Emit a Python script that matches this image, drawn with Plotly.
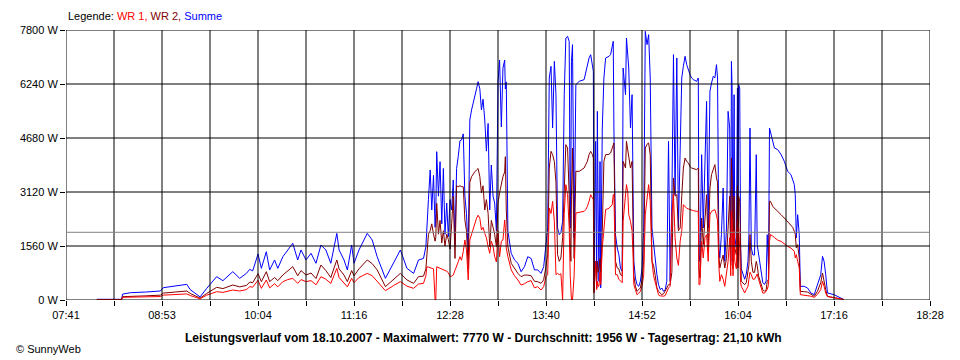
import plotly.graph_objects as go

# time in minutes after midnight
times = [
    484.1, 502.6, 503.4, 509.3, 520.5, 531.7, 533.9, 542.8, 551.5, 554.0,
    561.4, 566.4, 573.8, 578.5, 585.9, 591.1, 596.1, 598.6, 600.8, 604.8,
    607.3, 611.0, 613.5, 617.2, 619.6, 623.4, 627.1, 630.8, 634.5, 637.0,
    640.7, 644.5, 648.2, 651.9, 655.6, 659.3, 663.8, 665.5, 669.2, 671.7,
    674.9, 676.7, 680.4, 686.6, 690.3, 694.0, 700.2, 706.4, 711.4, 716.3,
    721.3,
    725.0, 728.7, 730.5, 731.2, 732.4, 733.7, 734.9, 736.2, 737.4, 737.9,
    738.6, 739.9, 741.1, 742.4, 743.6, 744.8, 746.1, 747.3, 748.6, 749.8,
    751.0, 752.3, 753.5, 754.7, 756.0, 757.2, 758.5, 759.7, 760.9, 762.2,
    763.4, 764.7, 765.9, 767.1, 768.4, 769.6, 770.9, 772.1, 773.3, 774.6,
    775.8, 777.1, 778.3, 779.5, 780.8, 782.0, 783.3, 784.5, 785.7, 787.0,
    788.2, 789.5, 790.0, 790.7, 791.9, 794.4, 796.9, 799.4, 801.8, 804.3,
    806.8, 809.3, 811.8, 814.2, 816.7, 818.7, 820.4,
    821.7, 822.9, 824.2, 825.4, 826.7, 827.9, 829.1, 830.4, 831.6, 832.9,
    834.1, 835.3, 836.6, 837.8, 838.6, 839.1, 839.5, 840.3, 841.5, 842.8,
    845.3, 849.0, 850.2, 851.4, 852.7, 853.9, 855.2, 855.9, 856.4, 857.6,
    858.4, 858.9, 859.4, 860.1, 860.9, 861.4, 862.6, 863.8, 865.1, 867.6,
    868.8, 870.0, 870.8, 871.3, 872.5, 873.8, 875.0, 876.2, 877.5, 878.2,
    879.2, 880.0, 880.7, 881.7, 882.4, 883.7, 884.9, 885.7, 886.2, 887.4,
    888.6, 889.9, 891.1, 892.4, 893.6, 894.8, 896.1, 897.3, 898.5, 899.8,
    901.0, 902.3, 903.5, 904.7, 906.0, 907.2, 908.5, 909.7, 910.9, 912.2,
    913.4, 914.7, 915.9, 917.1, 918.4, 919.6, 920.9, 922.1,
    923.3, 924.6, 925.8, 927.1, 928.3, 929.5, 930.8, 933.3, 934.5, 935.0,
    935.7, 937.0, 938.2, 939.5, 940.7, 941.9, 943.2, 944.4, 945.7, 946.9,
    948.1, 948.9, 949.9, 950.6, 951.8, 953.1, 954.3, 955.6, 956.8, 958.0,
    958.8, 959.3, 959.8, 960.5, 961.3, 961.8, 963.0, 963.8, 964.2, 964.7,
    965.5, 966.2, 966.7, 968.0, 969.2, 970.4, 971.7, 972.4, 973.2, 974.2,
    975.4, 976.6, 977.9, 978.6, 979.6, 981.6, 982.8, 984.1, 985.3, 986.1,
    987.1, 987.8, 988.5, 990.3, 991.5, 994.0, 996.5, 998.9, 1001.4, 1003.9,
    1005.2, 1006.4, 1007.1, 1007.9, 1008.9, 1010.1, 1010.9, 1013.8, 1016.3, 1018.8,
    1021.3, 1023.7, 1026.2, 1027.5, 1028.7, 1029.9, 1031.2, 1036.1, 1038.6, 1041.1,
    1043.6,
]

summe = [
    20, 20, 170, 211, 230, 260, 356, 400, 452, 300,
    90, 337, 674, 558, 818, 626, 770, 886, 840, 1329,
    915, 1395, 867, 1156, 915, 1251, 1445, 1638, 1156, 1445,
    1156, 1348, 1060, 1589, 1445, 1060, 1926, 1445, 1156, 867,
    1589, 1060, 1445, 1926, 1733, 1251, 626, 1060, 1445, 915,
    770,
    1156, 1200, 1540, 2225, 2900, 3756, 2600, 3600, 2100, 2500,
    4285, 3000, 3996, 2200, 3800, 1900, 2800, 1830, 2900, 2600,
    3467, 1600, 3800, 4140, 4600, 4622, 4800, 3000, 2500, 1350,
    5200, 5489, 5700, 5971, 6100, 6307, 6100, 5489, 5800, 5200,
    4300, 5100, 2600, 3900, 3000, 2800, 2000, 6300, 6933, 5000,
    6700, 6933, 6100, 6300, 2000, 1348, 1156, 1060, 818, 960,
    1251, 1200, 870, 870, 770, 960, 1540,
    2080, 6414, 6750, 4969, 6895, 5932, 2080, 1887, 1950, 2273,
    5932, 7569, 7617, 7473, 2080, 4000, 6895, 7377, 1800, 6221,
    6317, 6366, 6606, 6799, 6991, 7088, 6799, 6606, 443, 4584,
    347, 5450, 3000, 539, 4000, 347, 4969, 6414, 6991, 7040,
    7088, 7280, 7473, 4969, 1887, 1502, 1310, 924, 828, 6702,
    6317, 5932, 7569, 7088, 6702, 4969, 5932, 3000, 1117, 636,
    443, 395, 539, 924, 2080, 7762, 7377, 7666, 6414, 2080,
    1598, 1117, 732, 443, 298, 347, 250, 300, 539, 4584,
    539, 2900, 7088, 3043, 6991, 2080, 4584, 6414,
    6750, 7040, 6799, 6606, 6510, 6414, 6366, 6317, 6414, 1310,
    1117, 4199, 2080, 4000, 5740, 2080, 6029, 6269, 6462, 6414,
    6799, 6414, 1502, 1213, 1887, 3236, 1117, 2080, 5450, 4969,
    1117, 6895, 6125, 1117, 5932, 1800, 1502, 6125, 1500, 6221,
    6125, 1502, 900, 750, 600, 750, 1117, 1887, 4969, 1502,
    1300, 1300, 4199, 1600, 1300, 700, 500, 450, 550, 1887,
    900, 4969, 4873, 4584, 4391, 4343, 4199, 4006, 3717, 3621,
    3477, 3332, 3043, 1791, 2465, 1887, 395, 395, 347, 203,
    154, 443, 732, 1261, 1117, 732, 203, 154, 106, 58,
    10,
]

wr2 = [
    10, 10, 96, 110, 120, 140, 200, 230, 260, 190,
    55, 190, 366, 330, 433, 380, 420, 520, 500, 760,
    530, 818, 530, 650, 560, 722, 850, 963, 700, 850,
    722, 780, 620, 1011, 850, 650, 1156, 900, 720, 530,
    850, 700, 900, 1156, 1050, 870, 385, 600, 770, 580,
    481,
    674, 690, 900, 1300, 1900, 2000, 2200, 1900, 1700, 1800,
    2793, 1900, 2300, 1650, 2000, 1560, 1900, 1750, 1470, 2200,
    3000, 1200, 3300, 3274, 3300, 3280, 3270, 2311, 2000, 900,
    3400, 3563, 3650, 3700, 3756, 3800, 3563, 3100, 3300, 2600,
    2900, 2500, 1540, 2300, 2100, 1900, 1540, 2800, 3100, 3400,
    3563, 3700, 4140, 2600, 1540, 1060, 915, 770, 674, 720,
    720, 700, 540, 530, 481, 580, 960,
    1310, 3813, 4295, 4199, 4000, 3400, 1310, 1117, 1213, 1800,
    3043, 4488, 4391, 3043, 1500, 1117, 3000, 4391, 1200, 3717,
    3717, 3813, 3910, 4006, 4199, 4295, 4199, 4100, 250, 1117,
    600, 1117, 800, 900, 1200, 539, 2000, 4006, 4199, 4210,
    4247, 4391, 4488, 4536, 1117, 924, 900, 732, 700, 4006,
    3900, 3813, 4584, 4300, 4199, 3813, 4006, 2000, 700, 400,
    250, 300, 347, 600, 1117, 4391, 4500, 4536, 4199, 1117,
    1000, 700, 347, 250, 200, 154, 180, 250, 347, 443,
    443, 800, 3525, 3000, 3043, 2000, 2080, 3000,
    3813, 4103, 4000, 3958, 3850, 3813, 3800, 3765, 3813, 924,
    636, 2369, 1598, 2465, 3043, 1406, 3236, 3621, 3813, 3910,
    3525, 3400, 1300, 924, 1117, 1300, 924, 1200, 2080, 3000,
    1000, 4103, 3500, 900, 3000, 1502, 1300, 3300, 1117, 3000,
    2851, 1000, 539, 491, 443, 500, 780, 1000, 1887, 1117,
    800, 800, 1117, 1000, 700, 400, 300, 250, 300, 539,
    600, 2851, 2851, 2700, 2658, 2562, 2465, 2369, 2273, 2177,
    2100, 1984, 1900, 1502, 1598, 1213, 250, 240, 230, 170,
    106, 250, 500, 780, 491, 300, 106, 60, 50, 39,
    10,
]

wr1 = [
    10, 10, 78, 85, 90, 100, 140, 160, 175, 130,
    35, 140, 240, 220, 289, 260, 300, 385, 370, 570,
    337, 578, 350, 470, 380, 530, 590, 626, 480, 590,
    530, 560, 440, 674, 600, 480, 915, 650, 500, 380,
    626, 500, 650, 770, 700, 530, 270, 420, 530, 400,
    337,
    462, 480, 700, 960, 950, 940, 930, 900, 0, 0,
    960, 940, 930, 900, 880, 870, 830, 790, 674, 690,
    720, 860, 960, 1100, 1251, 1150, 1400, 1733, 1450, 580,
    1733, 1900, 2022, 2200, 2360, 2450, 2360, 2022, 2100, 1926,
    1800, 1540, 1350, 1700, 1550, 1250, 1100, 2000, 1250, 1700,
    1733, 2311, 2100, 1500, 1250, 870, 700, 578, 433, 470,
    530, 560, 350, 385, 289, 385, 674,
    732, 2658, 2500, 2851, 2273, 732, 770, 732, 760, 0,
    2500, 3332, 3043, 2080, 700, 0, 0, 0, 700, 2513,
    2530, 2562, 2610, 2700, 2851, 3043, 2950, 2900, 200, 1117,
    300, 539, 400, 400, 800, 443, 1500, 2080, 2610, 2650,
    2700, 2750, 3043, 3043, 732, 732, 600, 539, 500, 2273,
    2800, 3043, 3332, 3100, 2465, 2273, 2000, 1200, 450, 300,
    154, 200, 250, 400, 732, 2465, 3000, 3332, 2851, 1117,
    700, 500, 250, 150, 120, 106, 110, 130, 250, 347,
    395, 2465, 3043, 1800, 1213, 1000, 1695, 2000,
    2754, 2700, 2650, 2630, 2610, 2600, 2580, 2562, 2562, 443,
    443, 1695, 1213, 1800, 1887, 1117, 2465, 2562, 2600, 2610,
    2450, 2300, 1000, 539, 732, 600, 395, 800, 1117, 1800,
    700, 2562, 2300, 700, 2000, 1117, 900, 2300, 924, 2100,
    1500, 500, 395, 300, 203, 300, 395, 600, 800, 732,
    600, 600, 732, 750, 600, 300, 200, 200, 250, 300,
    450, 1695, 1887, 1850, 1800, 1730, 1695, 1620, 1550, 1500,
    1450, 1406, 1213, 1310, 1117, 924, 154, 145, 135, 110,
    77, 160, 300, 539, 395, 200, 100, 60, 50, 30,
    10,
]

average = 1956
y_ticks = [0, 1560, 3120, 4680, 6240, 7800]
y_labels = ["0 W", "1560 W", "3120 W", "4680 W", "6240 W", "7800 W"]
x_labels = ["07:41", "", "08:53", "", "10:04", "", "11:16", "", "12:28", "",
            "13:40", "", "14:52", "", "16:04", "", "17:16", "", "18:28"]
t_start, t_end = 461, 1108

n = len(x_labels) - 1
x_ticks = [t_start + k * (t_end - t_start) / n for k in range(n + 1)]

FONT = "Liberation Sans, Arial, sans-serif"

# The page body has an 8px margin, so the figure is 8px smaller and
# its margins are shifted to put the plot area at page x 60..930, y 30..300.
FIG_W, FIG_H = 952, 352
ML, MR, MT, MB = 52, 30, 22, 60
PW = FIG_W - ML - MR   # 870
PH = FIG_H - MT - MB   # 270

fig = go.Figure()
fig.add_trace(go.Scatter(x=times, y=summe, mode="lines", name="Summe",
                         line=dict(color="#0000FF", width=1)))
fig.add_trace(go.Scatter(x=times, y=wr2, mode="lines", name="WR 2",
                         line=dict(color="#800000", width=1)))
fig.add_trace(go.Scatter(x=times, y=wr1, mode="lines", name="WR 1",
                         line=dict(color="#FF0000", width=1)))

shapes = []
for xv in x_ticks:
    shapes.append(dict(type="line", xref="x", yref="y", x0=xv, x1=xv,
                       y0=y_ticks[0], y1=y_ticks[-1], layer="above",
                       line=dict(color="black", width=1)))
for yv in y_ticks:
    shapes.append(dict(type="line", xref="x", yref="y", x0=t_start, x1=t_end,
                       y0=yv, y1=yv, layer="above",
                       line=dict(color="black", width=1)))
shapes.append(dict(type="line", xref="x", yref="y", x0=t_start, x1=t_end,
                   y0=average, y1=average, layer="above",
                   line=dict(color="#808080", width=1)))

fig.update_layout(
    width=FIG_W, height=FIG_H,
    margin=dict(l=ML, r=MR, t=MT, b=MB),
    paper_bgcolor="white", plot_bgcolor="white",
    showlegend=False,
    font=dict(family=FONT, size=11, color="black"),
    shapes=shapes,
    xaxis=dict(range=[t_start, t_end], tickmode="array", tickvals=x_ticks,
               ticktext=x_labels, ticks="outside", ticklen=5, tickwidth=1,
               tickcolor="black", showgrid=False, zeroline=False,
               showline=False, tickfont=dict(family=FONT, size=11)),
    yaxis=dict(range=[y_ticks[0], y_ticks[-1]], tickmode="array",
               tickvals=y_ticks, ticktext=y_labels, ticks="outside",
               ticklen=5, tickwidth=1, tickcolor="black", showgrid=False,
               zeroline=False, showline=False,
               tickfont=dict(family=FONT, size=11)),
    annotations=[
        dict(xref="paper", yref="paper", x=0, y=1 + 14 / PH,
             xanchor="left", yanchor="middle", showarrow=False,
             text="Legende: <span style='color:#FF0000'>WR 1,</span> "
                  "<span style='color:#800000'>WR 2,</span> "
                  "<span style='color:#0000FF'>Summe</span>",
             font=dict(family=FONT, size=11, color="black")),
        dict(xref="paper", yref="paper", x=(480 - 60) / PW, y=-38 / PH,
             xanchor="center", yanchor="middle", showarrow=False,
             text="<b>Leistungsverlauf vom 18.10.2007 - Maximalwert: 7770 W - "
                  "Durchschnitt: 1956 W - Tagesertrag: 21,10 kWh</b>",
             font=dict(family=FONT, size=12, color="black")),
        dict(xref="paper", yref="paper", x=-ML / PW, y=-49 / PH,
             xanchor="left", yanchor="middle", showarrow=False,
             text="© SunnyWeb",
             font=dict(family=FONT, size=11, color="black")),
    ],
)

fig.write_html("out.html")
